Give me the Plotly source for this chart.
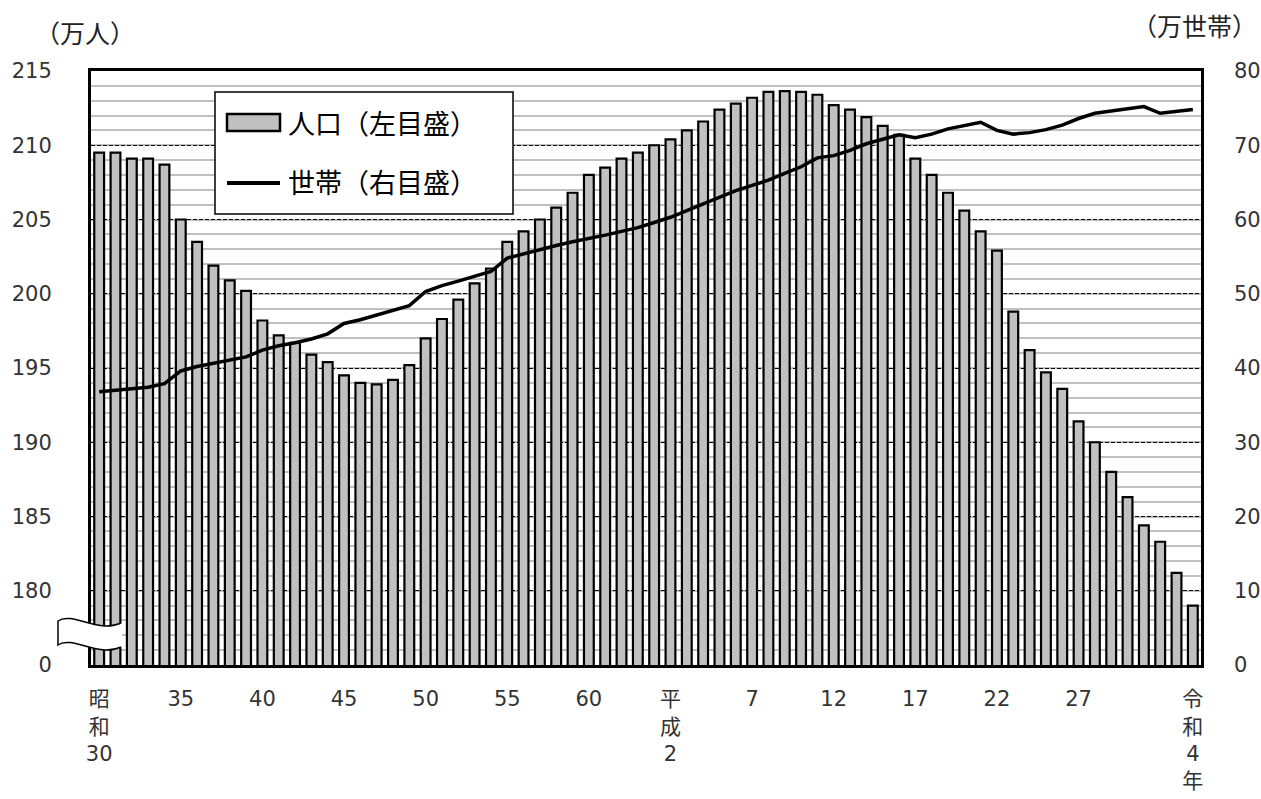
import plotly.graph_objects as go

# ---------------- data ----------------
year_index = list(range(68))  # 昭和30年(1955) ... 令和4年(2022)

population = [209.5, 209.5, 209.1, 209.1, 208.7, 205.0, 203.5, 201.9, 200.9, 200.2,
              198.2, 197.2, 196.7, 195.9, 195.4, 194.5, 194.0, 193.9, 194.2, 195.2,
              197.0, 198.3, 199.6, 200.7, 201.7, 203.5, 204.2, 205.0, 205.8, 206.8,
              208.0, 208.5, 209.1, 209.5, 210.0, 210.4, 211.0, 211.6, 212.4, 212.8,
              213.2, 213.6, 213.65, 213.6, 213.4, 212.7, 212.4, 211.9, 211.3, 210.7,
              209.1, 208.0, 206.8, 205.6, 204.2, 202.9, 198.8, 196.2, 194.7, 193.6,
              191.4, 190.0, 188.0, 186.3, 184.4, 183.3, 181.2, 179.0]

households = [36.8, 37.0, 37.2, 37.4, 37.9, 39.6, 40.2, 40.6, 41.0, 41.5,
              42.4, 43.0, 43.4, 43.9, 44.6, 46.0, 46.5, 47.1, 47.8, 48.4,
              50.3, 51.1, 51.7, 52.4, 53.0, 54.8, 55.4, 55.9, 56.5, 57.0,
              57.4, 57.9, 58.4, 58.9, 59.6, 60.3, 61.2, 62.1, 63.0, 63.9,
              64.6, 65.3, 66.2, 67.1, 68.3, 68.6, 69.3, 70.2, 70.8, 71.4,
              71.0, 71.5, 72.2, 72.6, 73.1, 72.0, 71.5, 71.7, 72.1, 72.7,
              73.6, 74.3, 74.6, 74.8, 75.2, 74.3, 74.6, 74.8]

x_tickvals = [0, 5, 10, 15, 20, 25, 30, 35, 40, 45, 50, 55, 60, 67]
x_ticktext = ['昭<br>和<br>30', '35', '40', '45', '50', '55', '60',
              '平<br>成<br>2', '7', '12', '17', '22', '27', '令<br>和<br>4<br>年']

left_tickvals = [175, 180, 185, 190, 195, 200, 205, 210, 215]
left_ticktext = ['0', '180', '185', '190', '195', '200', '205', '210', '215']
right_tickvals = [0, 10, 20, 30, 40, 50, 60, 70, 80]

bar_name = '人口（左目盛）'
line_name = '世帯（右目盛）'
left_unit = '（万人）'
right_unit = '（万世帯）'

# ---------------- layout geometry ----------------
W, H = 1261, 799
L, R, T, B = 91, 1201, 71, 665
FONT = 'Noto Sans CJK JP'
TICKFONT = 'DejaVu Sans, Noto Sans CJK JP'
TXT = '#333333'


def px(x):
    return (x - L) / (R - L)


def py(y):
    return (B - y) / (B - T)


fig = go.Figure()
fig.add_trace(go.Bar(
    x=year_index, y=population, name=bar_name,
    marker=dict(color='#c0c0c0', line=dict(color='black', width=2.2)),
    showlegend=False,
))
fig.add_trace(go.Scatter(
    x=year_index, y=households, name=line_name, yaxis='y2', mode='lines',
    line=dict(color='black', width=3.5),
    showlegend=False,
))

shapes = []
# manual legend box
shapes.append(dict(type='rect', xref='paper', yref='paper',
                   x0=px(215), x1=px(513), y0=py(214), y1=py(92),
                   line=dict(color='black', width=1.5), fillcolor='white', layer='above'))
shapes.append(dict(type='rect', xref='paper', yref='paper',
                   x0=px(227), x1=px(280), y0=py(131), y1=py(114),
                   line=dict(color='black', width=2.5), fillcolor='#c0c0c0', layer='above'))
shapes.append(dict(type='line', xref='paper', yref='paper',
                   x0=px(227), x1=px(280), y0=py(183), y1=py(183),
                   line=dict(color='black', width=4), layer='above'))


def pt(x, y):
    return f'{px(x):.5f},{py(y):.5f}'


fill_path = (f'M {pt(58,621)} C {pt(72,611)} {pt(98,634)} {pt(122,623)} '
             f'L {pt(122,647)} C {pt(98,658)} {pt(72,635)} {pt(58,645)} Z')
outline_path = (f'M {pt(121,623)} C {pt(98,634)} {pt(72,611)} {pt(58,621)} '
                f'L {pt(58,645)} C {pt(72,635)} {pt(98,658)} {pt(121,647)}')
shapes.append(dict(type='path', xref='paper', yref='paper', path=fill_path,
                   fillcolor='white', line=dict(width=0), layer='above'))
shapes.append(dict(type='path', xref='paper', yref='paper', path=outline_path,
                   fillcolor='rgba(0,0,0,0)', line=dict(color='black', width=1.5),
                   layer='above'))

annotations = [
    dict(text=bar_name, xref='paper', yref='paper', x=px(286), y=py(122),
         xanchor='left', yanchor='middle', showarrow=False,
         font=dict(family=FONT, size=27, color='black')),
    dict(text=line_name, xref='paper', yref='paper', x=px(286), y=py(181),
         xanchor='left', yanchor='middle', showarrow=False,
         font=dict(family=FONT, size=27, color='black')),
    dict(text=left_unit, xref='paper', yref='paper', x=px(33), y=py(32),
         xanchor='left', yanchor='middle', showarrow=False,
         font=dict(family=FONT, size=25, color='#222222')),
    dict(text=right_unit, xref='paper', yref='paper', x=px(1259), y=py(25),
         xanchor='right', yanchor='middle', showarrow=False,
         font=dict(family=FONT, size=25, color='#222222')),
]

tickfont = dict(family=TICKFONT, size=21, color=TXT)

fig.update_layout(
    width=W, height=H,
    margin=dict(l=L, r=W - R, t=T, b=H - B, pad=0, autoexpand=False),
    paper_bgcolor='white', plot_bgcolor='white',
    font=dict(family=FONT, size=22, color=TXT),
    bargap=0.4,
    showlegend=False,
    shapes=shapes,
    annotations=annotations,
    xaxis=dict(
        range=[-0.5, 67.5], tickmode='array', tickvals=x_tickvals, ticktext=x_ticktext,
        showgrid=False, zeroline=False, ticks='', automargin=False,
        showline=True, mirror=True, linecolor='black', linewidth=3,
        tickfont=tickfont, ticklabelstandoff=13,
    ),
    yaxis=dict(
        range=[175, 215], tickmode='array', tickvals=left_tickvals, ticktext=left_ticktext,
        showgrid=True, gridcolor='black', gridwidth=1, griddash='4px,2px',
        minor=dict(tickmode='linear', tick0=175, dtick=1, showgrid=True,
                   gridcolor='#c0c0c0', gridwidth=1.6, griddash='solid', ticks=''),
        zeroline=False, ticks='', automargin=False,
        showline=True, mirror=True, linecolor='black', linewidth=3,
        tickfont=tickfont, ticklabelstandoff=32,
    ),
    yaxis2=dict(
        overlaying='y', side='right', range=[0, 80], tickmode='array',
        tickvals=right_tickvals, showgrid=False, zeroline=False, ticks='',
        showline=False, automargin=False,
        tickfont=tickfont, ticklabelstandoff=32,
    ),
)

fig.write_html(
    'out.html',
    config={'displayModeBar': False},
    post_script=("document.documentElement.style.margin='0';"
                 "document.documentElement.style.overflow='hidden';"
                 "document.body.style.margin='0';"
                 "document.body.style.overflow='hidden';"),
)
